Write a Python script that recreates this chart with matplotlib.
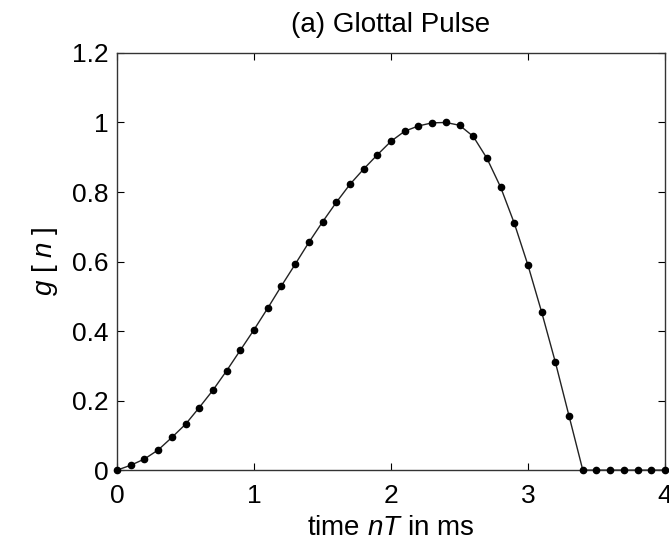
import matplotlib
matplotlib.use("Agg")
import matplotlib.pyplot as plt
import numpy as np

plt.rcParams["font.family"] = ["Liberation Sans", "DejaVu Sans"]
plt.rcParams["mathtext.fontset"] = "custom"
plt.rcParams["mathtext.it"] = "Liberation Sans:italic"
plt.rcParams["mathtext.rm"] = "Liberation Sans"

# sample index n, sampling period T = 0.1 ms
n = np.arange(41)
T = 0.1
g = [0.0, 0.014, 0.032, 0.058, 0.094, 0.132, 0.18, 0.23, 0.286, 0.345,
     0.404, 0.466, 0.53, 0.592, 0.655, 0.714, 0.77, 0.822, 0.866, 0.907,
     0.946, 0.975, 0.99, 0.999, 1.0, 0.992, 0.96, 0.897, 0.814, 0.71,
     0.589, 0.454, 0.31, 0.155, 0.0, 0.0, 0.0, 0.0, 0.0, 0.0, 0.0]
xticks = [0, 1, 2, 3, 4]
yticks = [0, 0.2, 0.4, 0.6, 0.8, 1, 1.2]
yticklabels = ["0", "0.2", "0.4", "0.6", "0.8", "1", "1.2"]

fig = plt.figure(figsize=(6.69, 5.46), dpi=100)
ax = fig.add_axes([0.175, 0.139, 0.819, 0.764])

t = n * T
ax.plot(t, g, color="#222222", linewidth=1.0, clip_on=False)
ax.plot(t, g, linestyle="none", marker="o", markersize=4.5,
        color="black", clip_on=False, zorder=3)

ax.set_xlim(0, 4)
ax.set_ylim(0, 1.2)
ax.set_xticks(xticks)
ax.set_yticks(yticks)
ax.set_yticklabels(yticklabels)
ax.tick_params(direction="in", top=True, right=True, length=5,
               labelsize=19, width=0.8)
ax.tick_params(axis="x", pad=10)
ax.tick_params(axis="y", pad=6)
for s in ax.spines.values():
    s.set_linewidth(1.0)
    s.set_color("#333333")

ax.set_title("(a) Glottal Pulse", fontsize=20, pad=15)
ax.set_xlabel("time $nT$ in ms", fontsize=20, labelpad=5)
ax.set_ylabel("$g$ [ $n$ ]", fontsize=20, labelpad=9)

fig.savefig("out.png", dpi=100)
